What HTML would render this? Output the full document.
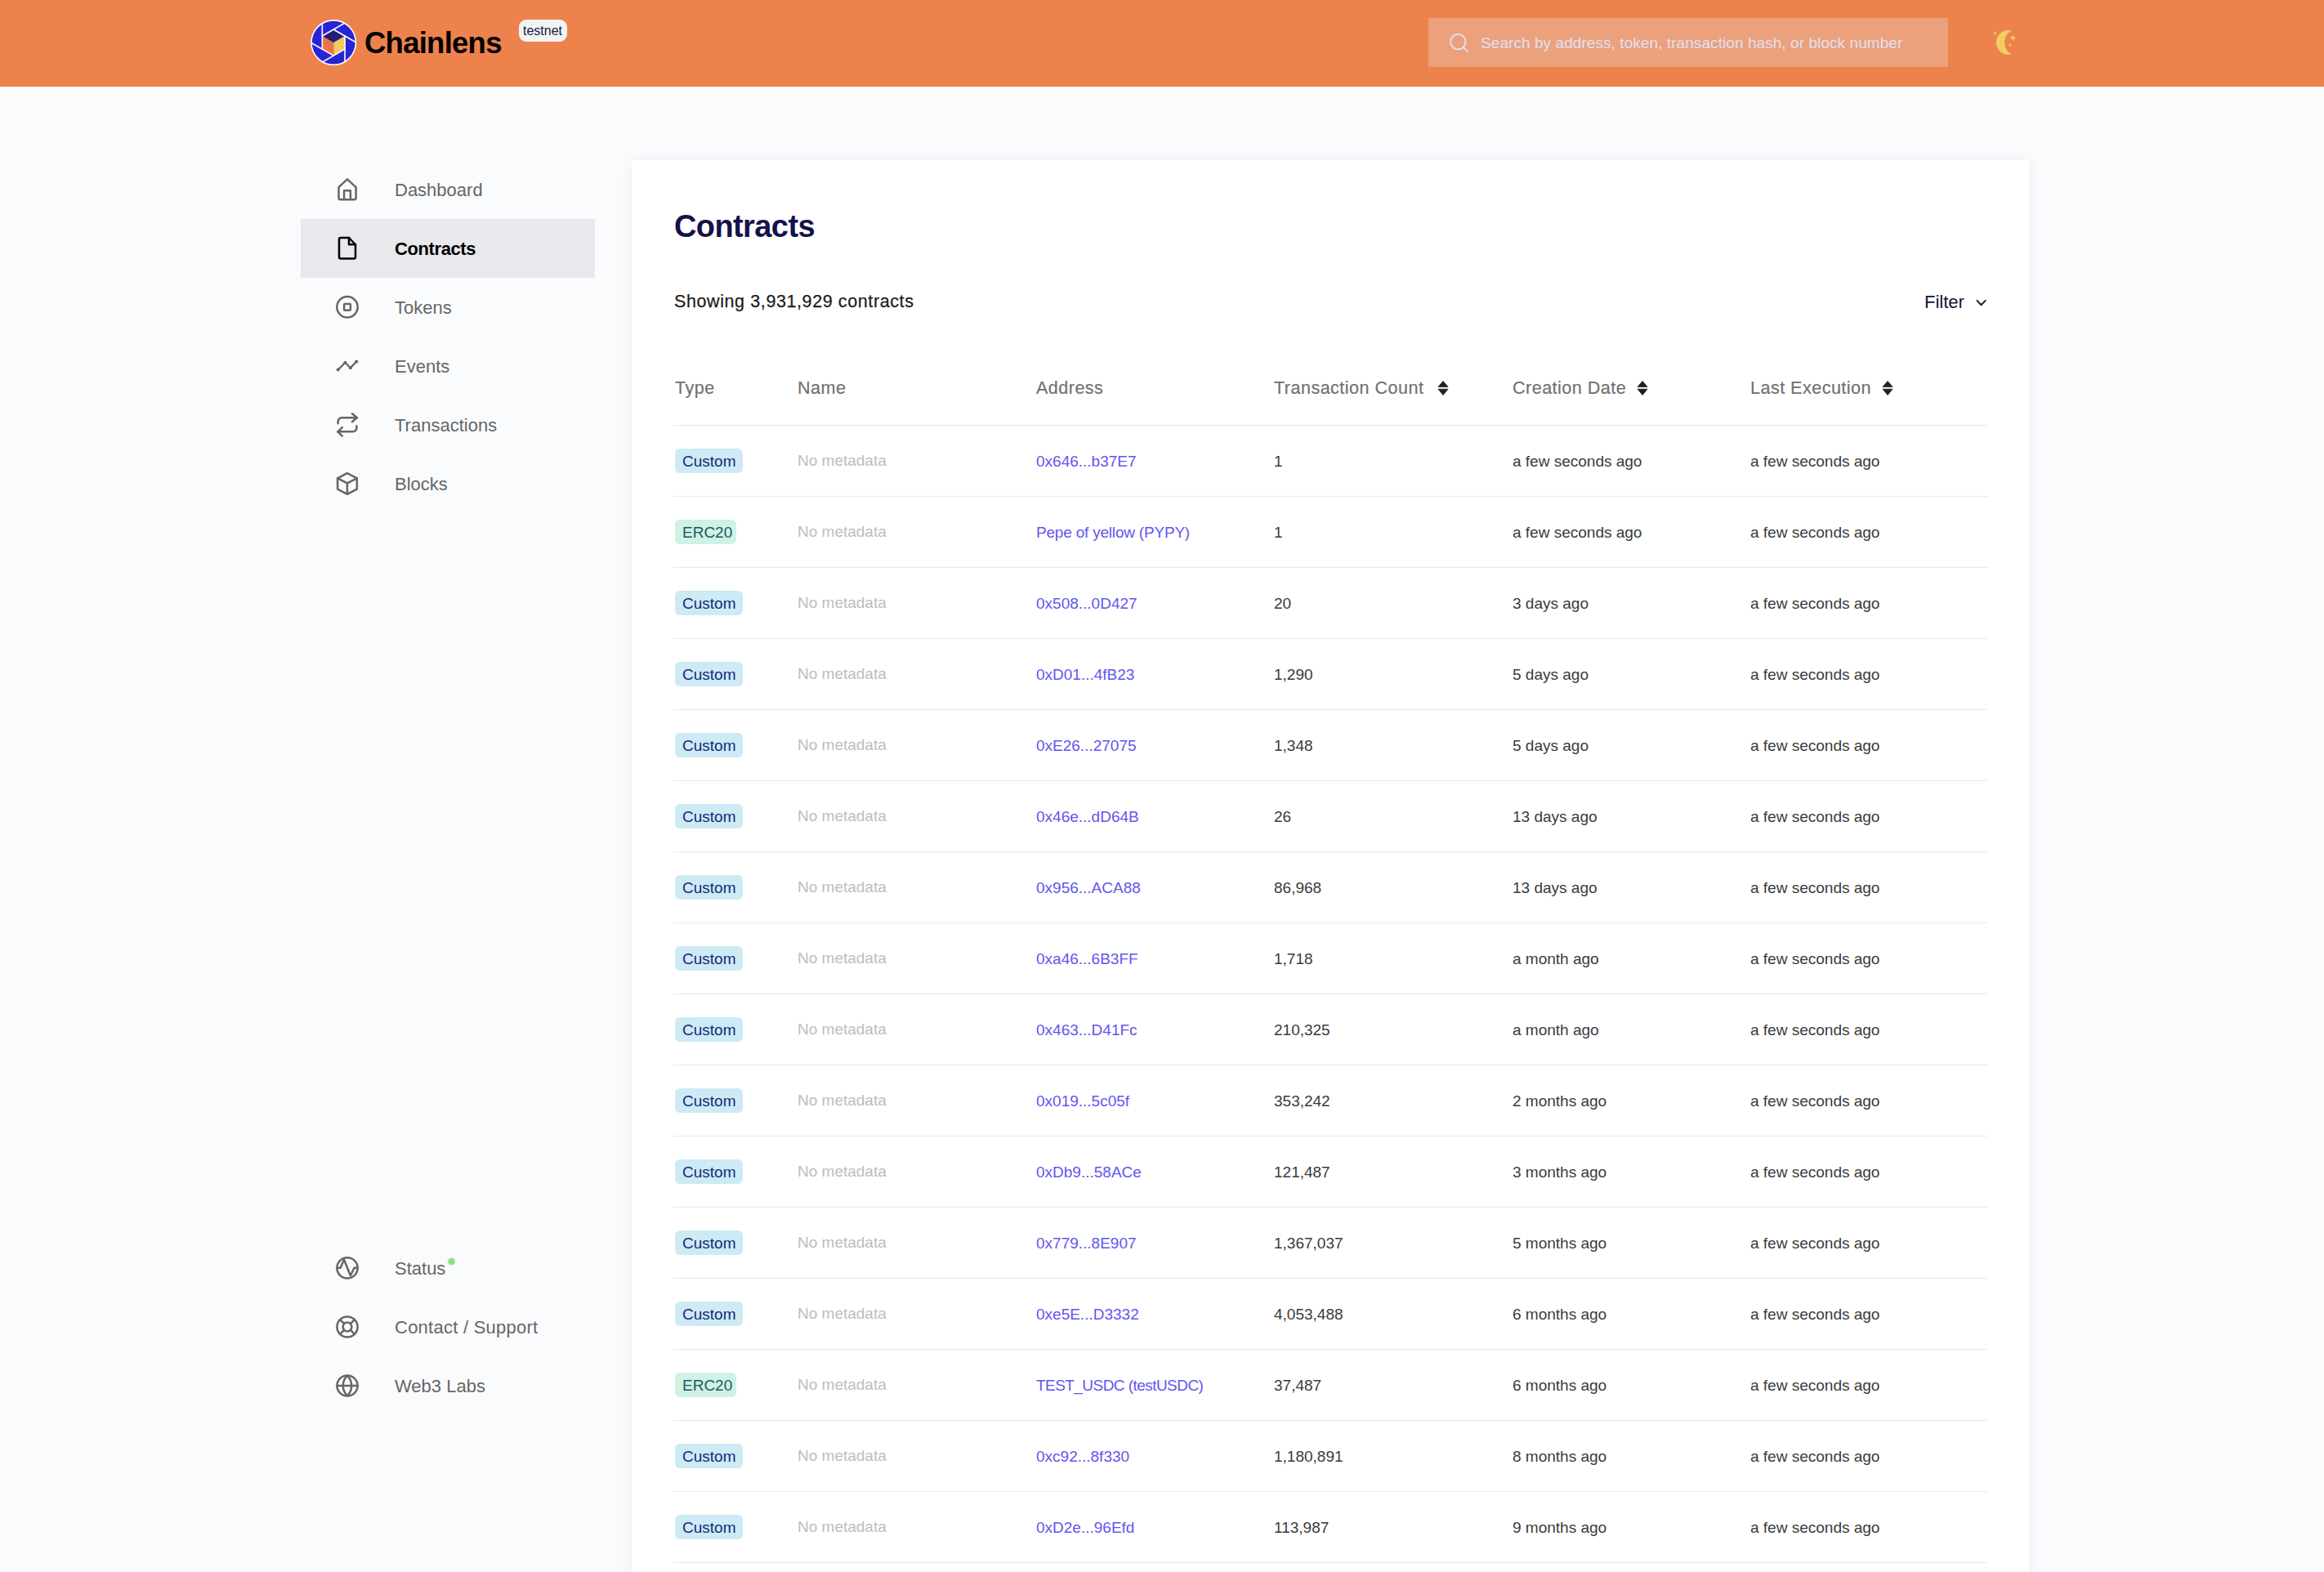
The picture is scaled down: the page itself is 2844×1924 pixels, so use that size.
<!DOCTYPE html>
<html><head><meta charset="utf-8">
<style>
*{margin:0;padding:0;box-sizing:border-box}
html,body{width:2844px;height:1924px;overflow:hidden;background:#fafbfd;font-family:"Liberation Sans",sans-serif}
.a{position:absolute}
.t{position:absolute;white-space:nowrap;line-height:1}
#hdr{position:absolute;left:0;top:0;width:2844px;height:106px;background:#ee824d;border-bottom:1px solid #ed7b45}
#panel{position:absolute;left:773px;top:196px;width:1710px;height:1800px;background:#fff;box-shadow:0 1px 18px rgba(40,40,60,0.06)}
.act{position:absolute;left:368px;top:268px;width:360px;height:72px;background:#e8e9ed}
.nv{position:absolute;left:483px;font-size:22px;color:#666;line-height:1;white-space:nowrap}
.hd{position:absolute;font-size:21.5px;color:#717171;line-height:1;white-space:nowrap;letter-spacing:0.5px;-webkit-text-stroke:0.2px #717171}
.ln{position:absolute;left:824px;width:1608px;height:1px;background:#e9e9e9}
.bd{position:absolute;left:826px;height:30px;border-radius:6px;line-height:1;white-space:nowrap;font-size:19px}
.bd span{position:absolute;left:9px;top:6px}
.cu{width:83px;background:#cdeaf5;color:#142a78}
.er{width:75px;background:#cff1e6;color:#1b5a62}
.c{position:absolute;font-size:19px;line-height:1;white-space:nowrap}
.nm{color:#bdbdbd}
.ad{color:#6256ee}
.dk{color:#3b3b3b}
</style></head><body>
<div id="hdr"></div>
<div class="t" style="left:446px;top:34.6px;font-size:36.5px;font-weight:bold;color:#000;letter-spacing:-0.75px">Chainlens</div>
<div class="a" style="left:635px;top:24px;width:59px;height:27px;border-radius:9px;background:#f3f3f4"></div>
<div class="t" style="left:640px;top:30px;font-size:16px;color:#17213f">testnet</div>
<div class="a" style="left:1748px;top:22px;width:636px;height:60px;background:#eba17b"></div>
<div class="t" style="left:1812px;top:43px;font-size:19px;color:#dfe0f7;letter-spacing:0.07px">Search by address, token, transaction hash, or block number</div>
<div class="act"></div>
<div class="nv" style="top:222px">Dashboard</div>
<div class="nv" style="top:294px;color:#000;font-weight:bold;letter-spacing:-0.4px">Contracts</div>
<div class="nv" style="top:366px">Tokens</div>
<div class="nv" style="top:438px">Events</div>
<div class="nv" style="top:510px">Transactions</div>
<div class="nv" style="top:582px">Blocks</div>
<div class="nv" style="top:1542px">Status</div>
<div class="nv" style="top:1614px;letter-spacing:0.25px">Contact / Support</div>
<div class="nv" style="top:1686px">Web3 Labs</div>
<div id="panel"></div>
<div class="t" style="left:825px;top:258px;font-size:38px;font-weight:bold;color:#15124a;letter-spacing:-0.6px">Contracts</div>
<div class="t" style="left:825px;top:359px;font-size:21.5px;color:#1c1c1c;letter-spacing:0.6px;-webkit-text-stroke:0.25px #1c1c1c">Showing 3,931,929 contracts</div>
<div class="t" style="left:2355px;top:359px;font-size:22px;color:#111633">Filter</div>
<div class="hd" style="left:826px;top:464.5px">Type</div>
<div class="hd" style="left:976px;top:464.5px">Name</div>
<div class="hd" style="left:1268px;top:464.5px">Address</div>
<div class="hd" style="left:1559px;top:464.5px">Transaction Count</div>
<div class="hd" style="left:1851px;top:464.5px">Creation Date</div>
<div class="hd" style="left:2142px;top:464.5px">Last Execution</div>
<div class="ln" style="top:520px"></div>
<div class="bd cu" style="top:549px"><span>Custom</span></div>
<div class="c nm" style="left:976px;top:554px">No metadata</div>
<div class="c ad" style="left:1268px;top:555px">0x646...b37E7</div>
<div class="c dk" style="left:1559px;top:555px">1</div>
<div class="c dk" style="left:1851px;top:555px">a few seconds ago</div>
<div class="c dk" style="left:2142px;top:555px">a few seconds ago</div>
<div class="ln" style="top:607px"></div>
<div class="bd er" style="top:636px"><span>ERC20</span></div>
<div class="c nm" style="left:976px;top:641px">No metadata</div>
<div class="c ad" style="left:1268px;top:642px;letter-spacing:-0.2px">Pepe of yellow (PYPY)</div>
<div class="c dk" style="left:1559px;top:642px">1</div>
<div class="c dk" style="left:1851px;top:642px">a few seconds ago</div>
<div class="c dk" style="left:2142px;top:642px">a few seconds ago</div>
<div class="ln" style="top:694px"></div>
<div class="bd cu" style="top:723px"><span>Custom</span></div>
<div class="c nm" style="left:976px;top:728px">No metadata</div>
<div class="c ad" style="left:1268px;top:729px">0x508...0D427</div>
<div class="c dk" style="left:1559px;top:729px">20</div>
<div class="c dk" style="left:1851px;top:729px">3 days ago</div>
<div class="c dk" style="left:2142px;top:729px">a few seconds ago</div>
<div class="ln" style="top:781px"></div>
<div class="bd cu" style="top:810px"><span>Custom</span></div>
<div class="c nm" style="left:976px;top:815px">No metadata</div>
<div class="c ad" style="left:1268px;top:816px">0xD01...4fB23</div>
<div class="c dk" style="left:1559px;top:816px">1,290</div>
<div class="c dk" style="left:1851px;top:816px">5 days ago</div>
<div class="c dk" style="left:2142px;top:816px">a few seconds ago</div>
<div class="ln" style="top:868px"></div>
<div class="bd cu" style="top:897px"><span>Custom</span></div>
<div class="c nm" style="left:976px;top:902px">No metadata</div>
<div class="c ad" style="left:1268px;top:903px">0xE26...27075</div>
<div class="c dk" style="left:1559px;top:903px">1,348</div>
<div class="c dk" style="left:1851px;top:903px">5 days ago</div>
<div class="c dk" style="left:2142px;top:903px">a few seconds ago</div>
<div class="ln" style="top:955px"></div>
<div class="bd cu" style="top:984px"><span>Custom</span></div>
<div class="c nm" style="left:976px;top:989px">No metadata</div>
<div class="c ad" style="left:1268px;top:990px">0x46e...dD64B</div>
<div class="c dk" style="left:1559px;top:990px">26</div>
<div class="c dk" style="left:1851px;top:990px">13 days ago</div>
<div class="c dk" style="left:2142px;top:990px">a few seconds ago</div>
<div class="ln" style="top:1042px"></div>
<div class="bd cu" style="top:1071px"><span>Custom</span></div>
<div class="c nm" style="left:976px;top:1076px">No metadata</div>
<div class="c ad" style="left:1268px;top:1077px">0x956...ACA88</div>
<div class="c dk" style="left:1559px;top:1077px">86,968</div>
<div class="c dk" style="left:1851px;top:1077px">13 days ago</div>
<div class="c dk" style="left:2142px;top:1077px">a few seconds ago</div>
<div class="ln" style="top:1129px"></div>
<div class="bd cu" style="top:1158px"><span>Custom</span></div>
<div class="c nm" style="left:976px;top:1163px">No metadata</div>
<div class="c ad" style="left:1268px;top:1164px">0xa46...6B3FF</div>
<div class="c dk" style="left:1559px;top:1164px">1,718</div>
<div class="c dk" style="left:1851px;top:1164px">a month ago</div>
<div class="c dk" style="left:2142px;top:1164px">a few seconds ago</div>
<div class="ln" style="top:1216px"></div>
<div class="bd cu" style="top:1245px"><span>Custom</span></div>
<div class="c nm" style="left:976px;top:1250px">No metadata</div>
<div class="c ad" style="left:1268px;top:1251px">0x463...D41Fc</div>
<div class="c dk" style="left:1559px;top:1251px">210,325</div>
<div class="c dk" style="left:1851px;top:1251px">a month ago</div>
<div class="c dk" style="left:2142px;top:1251px">a few seconds ago</div>
<div class="ln" style="top:1303px"></div>
<div class="bd cu" style="top:1332px"><span>Custom</span></div>
<div class="c nm" style="left:976px;top:1337px">No metadata</div>
<div class="c ad" style="left:1268px;top:1338px">0x019...5c05f</div>
<div class="c dk" style="left:1559px;top:1338px">353,242</div>
<div class="c dk" style="left:1851px;top:1338px">2 months ago</div>
<div class="c dk" style="left:2142px;top:1338px">a few seconds ago</div>
<div class="ln" style="top:1390px"></div>
<div class="bd cu" style="top:1419px"><span>Custom</span></div>
<div class="c nm" style="left:976px;top:1424px">No metadata</div>
<div class="c ad" style="left:1268px;top:1425px">0xDb9...58ACe</div>
<div class="c dk" style="left:1559px;top:1425px">121,487</div>
<div class="c dk" style="left:1851px;top:1425px">3 months ago</div>
<div class="c dk" style="left:2142px;top:1425px">a few seconds ago</div>
<div class="ln" style="top:1477px"></div>
<div class="bd cu" style="top:1506px"><span>Custom</span></div>
<div class="c nm" style="left:976px;top:1511px">No metadata</div>
<div class="c ad" style="left:1268px;top:1512px">0x779...8E907</div>
<div class="c dk" style="left:1559px;top:1512px">1,367,037</div>
<div class="c dk" style="left:1851px;top:1512px">5 months ago</div>
<div class="c dk" style="left:2142px;top:1512px">a few seconds ago</div>
<div class="ln" style="top:1564px"></div>
<div class="bd cu" style="top:1593px"><span>Custom</span></div>
<div class="c nm" style="left:976px;top:1598px">No metadata</div>
<div class="c ad" style="left:1268px;top:1599px">0xe5E...D3332</div>
<div class="c dk" style="left:1559px;top:1599px">4,053,488</div>
<div class="c dk" style="left:1851px;top:1599px">6 months ago</div>
<div class="c dk" style="left:2142px;top:1599px">a few seconds ago</div>
<div class="ln" style="top:1651px"></div>
<div class="bd er" style="top:1680px"><span>ERC20</span></div>
<div class="c nm" style="left:976px;top:1685px">No metadata</div>
<div class="c ad" style="left:1268px;top:1686px;letter-spacing:-0.55px">TEST_USDC (testUSDC)</div>
<div class="c dk" style="left:1559px;top:1686px">37,487</div>
<div class="c dk" style="left:1851px;top:1686px">6 months ago</div>
<div class="c dk" style="left:2142px;top:1686px">a few seconds ago</div>
<div class="ln" style="top:1738px"></div>
<div class="bd cu" style="top:1767px"><span>Custom</span></div>
<div class="c nm" style="left:976px;top:1772px">No metadata</div>
<div class="c ad" style="left:1268px;top:1773px">0xc92...8f330</div>
<div class="c dk" style="left:1559px;top:1773px">1,180,891</div>
<div class="c dk" style="left:1851px;top:1773px">8 months ago</div>
<div class="c dk" style="left:2142px;top:1773px">a few seconds ago</div>
<div class="ln" style="top:1825px"></div>
<div class="bd cu" style="top:1854px"><span>Custom</span></div>
<div class="c nm" style="left:976px;top:1859px">No metadata</div>
<div class="c ad" style="left:1268px;top:1860px">0xD2e...96Efd</div>
<div class="c dk" style="left:1559px;top:1860px">113,987</div>
<div class="c dk" style="left:1851px;top:1860px">9 months ago</div>
<div class="c dk" style="left:2142px;top:1860px">a few seconds ago</div>
<div class="ln" style="top:1912px"></div>
<svg class="a" style="left:0;top:0" width="2844" height="1924" viewBox="0 0 2844 1924"><defs><clipPath id="lc"><circle cx="408.2" cy="52.1" r="26.8"/></clipPath></defs><circle cx="408.2" cy="52.1" r="27.2" fill="#2824d5" stroke="#fbfbff" stroke-width="1.6"/><polygon points="408.20,36.10 422.06,44.10 408.20,52.10 394.34,44.10" fill="#241c7a"/><polygon points="394.34,44.10 408.20,52.10 408.20,68.10 394.34,60.10" fill="#eb7446"/><polygon points="408.20,52.10 422.06,44.10 422.06,60.10 408.20,68.10" fill="#f4ca58"/><g clip-path="url(#lc)" stroke="#f4f4ff" stroke-width="1.7" stroke-linecap="square"><line x1="394.34" y1="60.10" x2="394.34" y2="4.10"/><line x1="394.34" y1="44.10" x2="442.84" y2="16.10"/><line x1="408.20" y1="36.10" x2="456.70" y2="64.10"/><line x1="422.06" y1="44.10" x2="422.06" y2="100.10"/><line x1="422.06" y1="60.10" x2="373.56" y2="88.10"/><line x1="408.20" y1="68.10" x2="359.70" y2="40.10"/></g><g fill="none" stroke="#dfe0f7" stroke-width="1.9" stroke-linecap="round"><circle cx="1784.3" cy="51.2" r="9.2"/><line x1="1791.2" y1="58.2" x2="1796" y2="63"/></g><path d="M2461.7 37.5 A15 15 0 1 0 2461.7 66.5 A16.5 16.5 0 0 1 2461.7 37.5 Z" fill="#f0ce62"/><path d="M2441.3 38.300000000000004 Q2441.806 40.094 2443.6000000000004 40.6 Q2441.806 41.106 2441.3 42.9 Q2440.7940000000003 41.106 2439.0 40.6 Q2440.7940000000003 40.094 2441.3 38.300000000000004 Z" fill="#f0ce62"/><path d="M2463.2 43.0 Q2463.948 45.652 2466.6 46.4 Q2463.948 47.147999999999996 2463.2 49.8 Q2462.4519999999998 47.147999999999996 2459.7999999999997 46.4 Q2462.4519999999998 45.652 2463.2 43.0 Z" fill="#f0ce62"/><path d="M2459.6 52.900000000000006 Q2460.1059999999998 54.694 2461.9 55.2 Q2460.1059999999998 55.706 2459.6 57.5 Q2459.094 55.706 2457.2999999999997 55.2 Q2459.094 54.694 2459.6 52.900000000000006 Z" fill="#f0ce62"/><g fill="none" stroke-width="2.5" stroke-linecap="round" stroke-linejoin="round" stroke="#666"><path d="M414.5 229.2 L425 219.4 L435.6 229.2 V242.2 a2 2 0 0 1 -2 2 H416.5 a2 2 0 0 1 -2 -2 Z"/><path d="M421.1 244 V233.2 H428.9 V244"/><circle cx="425" cy="375.8" r="12.7"/><rect x="421.1" y="371.9" width="7.8" height="7.8" rx="1"/><polyline points="413.6,452.6 422.4,443.8 428.8,450.3 436.3,442.4" stroke-width="2.3"/><g fill="#666" stroke="none"><circle cx="413.6" cy="452.6" r="2"/><circle cx="422.4" cy="443.8" r="2"/><circle cx="428.8" cy="450.3" r="2"/><circle cx="436.3" cy="442.4" r="2"/></g><path d="M413.7 518.3 V516 a4.6 4.6 0 0 1 4.6 -4.8 H436.8"/><polyline points="431,506.2 436.8,511.2 431,516.2"/><path d="M436.4 521.2 V523.5 a4.6 4.6 0 0 1 -4.6 4.8 H413.4"/><polyline points="418.8,523.2 413.4,528.3 418.8,533.6"/><path d="M424.9 579.2 L436.8 585.3 V598.7 L424.9 604.8 L413.1 598.7 V585.3 Z"/><polyline points="413.1,585.3 424.9,591.3 436.8,585.3"/><line x1="424.9" y1="591.3" x2="424.9" y2="604.8"/><circle cx="425" cy="1551.9" r="12.6"/><polyline points="412.6,1551.8 416.6,1551.8 421,1541.8 428.9,1561.2 433.5,1551.8 437.6,1551.8"/><circle cx="425" cy="1624" r="12.6"/><circle cx="425" cy="1624" r="5.4"/><line x1="428.82" y1="1627.82" x2="433.91" y2="1632.91"/><line x1="421.18" y1="1627.82" x2="416.09" y2="1632.91"/><line x1="421.18" y1="1620.18" x2="416.09" y2="1615.09"/><line x1="428.82" y1="1620.18" x2="433.91" y2="1615.09"/><circle cx="425" cy="1696" r="12.6"/><path d="M425 1683.6 A17.4 17.4 0 0 0 425 1708.4 A17.4 17.4 0 0 0 425 1683.6 Z"/><line x1="412.4" y1="1696" x2="437.6" y2="1696"/></g><g fill="none" stroke-width="2.5" stroke-linecap="round" stroke-linejoin="round" stroke="#000"><path d="M415 293 a2 2 0 0 1 2 -2 H427 L435 299.3 V314.6 a2 2 0 0 1 -2 2 H417 a2 2 0 0 1 -2 -2 Z"/><path d="M427 291 V299.3 H435"/></g><circle cx="552.5" cy="1544" r="5.8" fill="#e6f5e6"/><circle cx="552.5" cy="1544" r="4" fill="#8cdc84"/><polyline points="2419.4,367.9 2424.5,373.3 2429.6,367.9" fill="none" stroke="#222" stroke-width="2" stroke-linecap="round" stroke-linejoin="round"/><path d="M1760 473.5 L1766 466.4 L1772 473.5 Z M1760 476.2 L1766 483.6 L1772 476.2 Z" fill="#1f2022" stroke="#1f2022" stroke-width="0.8" stroke-linejoin="round"/><path d="M2004 473.5 L2010 466.4 L2016 473.5 Z M2004 476.2 L2010 483.6 L2016 476.2 Z" fill="#1f2022" stroke="#1f2022" stroke-width="0.8" stroke-linejoin="round"/><path d="M2304 473.5 L2310 466.4 L2316 473.5 Z M2304 476.2 L2310 483.6 L2316 476.2 Z" fill="#1f2022" stroke="#1f2022" stroke-width="0.8" stroke-linejoin="round"/></svg>
</body></html>
